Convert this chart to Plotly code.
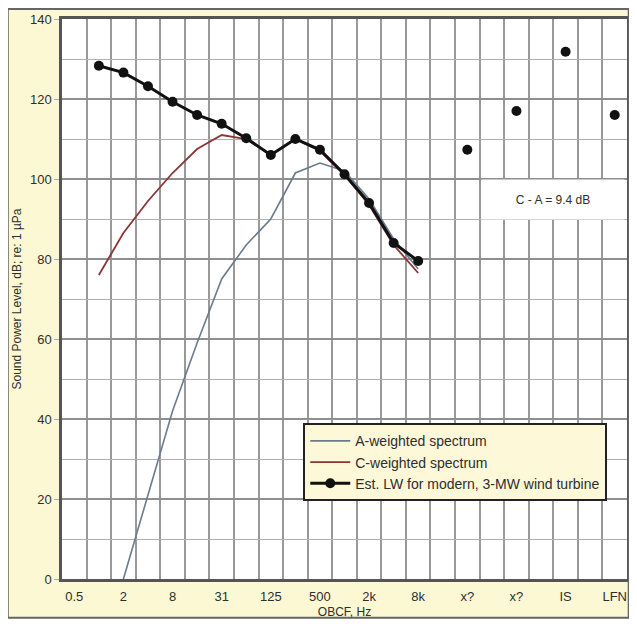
import plotly.graph_objects as go

# ---- data ----
band_labels = ["1", "2", "4", "8", "16", "31.5", "63", "125", "250", "500", "1k", "2k", "4k", "8k"]
band_pos = list(range(14))

a_pos = band_pos[1:]
a_weighted = [0, 21, 42, 59, 75, 83.5, 90, 101.5, 104, 102, 95, 85, 77.5]

c_weighted = [76, 86.5, 94.5, 101.5, 107.5, 111, 110, 106, 110, 107, 101, 93.5, 83.5, 76.5]

lw_est = [128.3, 126.6, 123.2, 119.3, 116, 113.8, 110.2, 106, 110, 107.3, 101.2, 94, 84, 79.5]

extra_pos = [15, 17, 19, 21]
extra_vals = [107.3, 117, 131.8, 116]

tick_pos = [-1, 1, 3, 5, 7, 9, 11, 13, 15, 17, 19, 21]
tick_text = ["0.5", "2", "8", "31", "125", "500", "2k", "8k", "x?", "x?", "IS", "LFN"]

y_ticks = [0, 20, 40, 60, 80, 100, 120, 140]

FONT = "Liberation Sans, Arial, sans-serif"
CREAM = "#fdf8d4"
TXT = "#2e2e2e"

fig = go.Figure()
fig.add_trace(go.Scatter(x=a_pos, y=a_weighted, mode="lines", name="A-weighted spectrum",
                         line=dict(color="#6a7b8c", width=1.6)))
fig.add_trace(go.Scatter(x=band_pos, y=c_weighted, mode="lines", name="C-weighted spectrum",
                         line=dict(color="#8c3535", width=1.8)))
fig.add_trace(go.Scatter(x=band_pos, y=lw_est, mode="lines+markers",
                         name="Est. LW for modern, 3-MW wind turbine",
                         line=dict(color="#111111", width=3),
                         marker=dict(color="#111111", size=10)))
fig.add_trace(go.Scatter(x=extra_pos, y=extra_vals, mode="markers", showlegend=False,
                         marker=dict(color="#111111", size=10)))

# page body has an 8px margin: figure is sized/offset to compensate
fig.update_layout(
    width=621, height=611,
    margin=dict(l=54, r=2, t=11, b=40),
    paper_bgcolor=CREAM,
    plot_bgcolor="white",
    font=dict(family=FONT, size=12, color=TXT),
    showlegend=True,
    legend=dict(x=0.427, y=0.278, xanchor="left", yanchor="top",
                bgcolor="#fdf8d8", bordercolor="#222222", borderwidth=2,
                font=dict(size=14, color=TXT), itemwidth=40,
                tracegroupgap=0),
    xaxis=dict(range=[-1.5, 21.5], tickmode="array", tickvals=tick_pos, ticktext=tick_text,
               showgrid=False, zeroline=False, automargin=False,
               ticks="outside", ticklen=4, tickcolor=CREAM,
               tickfont=dict(size=13, color=TXT),
               minor=dict(tickmode="linear", tick0=-0.5, dtick=1, showgrid=True,
                          gridcolor="#999999", gridwidth=1.5, ticks=""),
               showline=True, mirror=True, linecolor="#555555", linewidth=2.5,
               title=dict(text="OBCF, Hz", standoff=12, font=dict(size=12, color=TXT))),
    yaxis=dict(range=[0, 140], tickmode="array", tickvals=y_ticks,
               showgrid=True, gridcolor="#8f8f8f", gridwidth=1.5, zeroline=False,
               automargin=False,
               ticks="outside", ticklen=5, tickcolor="#aaaaaa",
               tickfont=dict(size=13, color=TXT),
               minor=dict(tickmode="linear", tick0=0, dtick=10, showgrid=True,
                          gridcolor="#b0b0b0", gridwidth=1.2, ticks=""),
               showline=True, mirror=True, linecolor="#555555", linewidth=2.5,
               title=dict(text="Sound Power Level, dB; re: 1 µPa", standoff=6,
                          font=dict(size=12, color=TXT))),
)

fig.add_annotation(x=18.5, y=94.8, xref="x", yref="y", text="C - A = 9.4 dB",
                   showarrow=False, bgcolor="white", width=140, height=37,
                   font=dict(size=12, color=TXT))

# outer frame
fig.add_shape(type="rect", xref="paper", yref="paper",
              x0=-0.096, x1=1.003, y0=-0.069, y1=1.018,
              line=dict(color="#666666", width=2), fillcolor="rgba(0,0,0,0)", layer="above")

fig.write_html("out.html")
